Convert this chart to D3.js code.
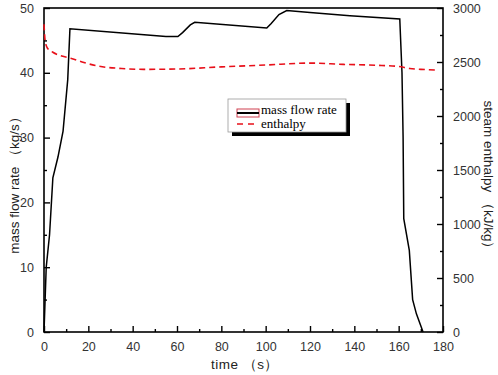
<!DOCTYPE html>
<html>
<head>
<meta charset="utf-8">
<script src="https://cdn.jsdelivr.net/npm/d3@7"></script>
<style>
  body { margin: 0; background: #fff; }
  svg { display: block; }
</style>
</head>
<body>
<svg id="chart" width="498" height="375"></svg>
<script>
// mass flow rate (kg/s) vs time (s)
const flowTime = [0, 1, 2.5, 4, 6.3, 8.6, 10.7, 11.7, 48, 55, 60.4, 62.5, 66, 68, 100.5, 102.5, 106, 109.5, 120, 138, 160.5, 161.5, 162, 162.3, 164.8, 166.3, 168, 171];
const flowValue = [0, 10, 15, 23.8, 27, 31, 38.9, 46.8, 45.8, 45.6, 45.6, 46.2, 47.4, 47.8, 46.9, 47.6, 49, 49.6, 49.3, 48.8, 48.3, 40, 30, 17.5, 12.6, 5, 2.8, 0];

// steam enthalpy (kJ/kg) vs time (s)
const enthTime = [0, 0.5, 1.5, 4, 8, 12, 18, 25, 35, 45, 60, 80, 100, 120, 135, 150, 160, 165, 170, 178];
const enthValue = [2850, 2700, 2630, 2590, 2555, 2535, 2495, 2460, 2440, 2432, 2435, 2455, 2472, 2490, 2478, 2470, 2458, 2440, 2432, 2425];

const xTicks = [0, 20, 40, 60, 80, 100, 120, 140, 160, 180];
const yLeftTicks = [0, 10, 20, 30, 40, 50];
const yRightTicks = [0, 500, 1000, 1500, 2000, 2500, 3000];

const svg = d3.select("#chart");
const plotLeft = 44, plotRight = 443, plotTop = 8, plotBottom = 332;

const x = d3.scaleLinear().domain([0, 180]).range([plotLeft, plotRight]);
const yL = d3.scaleLinear().domain([0, 50]).range([plotBottom, plotTop]);
const yR = d3.scaleLinear().domain([0, 3000]).range([plotBottom, plotTop]);

const font = "Liberation Sans, Arial, sans-serif";
const serif = "Liberation Serif, Times New Roman, serif";

// frame
svg.append("rect")
  .attr("x", plotLeft).attr("y", plotTop)
  .attr("width", plotRight - plotLeft).attr("height", plotBottom - plotTop)
  .attr("fill", "none").attr("stroke", "#000").attr("stroke-width", 1.6);

function styleAxis(g) {
  g.select(".domain").remove();
  g.selectAll(".tick line").attr("stroke", "#000").attr("stroke-width", 1.4);
  g.selectAll(".tick text")
    .attr("fill", "#333")
    .style("font-family", font)
    .style("font-size", "12.5px");
}

// bottom axis, inward ticks, with minor ticks
svg.append("g")
  .attr("transform", `translate(0,${plotBottom})`)
  .call(d3.axisBottom(x).tickValues(xTicks).tickSize(-6).tickPadding(10))
  .call(styleAxis);
svg.append("g")
  .attr("transform", `translate(0,${plotBottom})`)
  .call(d3.axisBottom(x).tickValues(d3.range(10, 180, 20)).tickSize(-3).tickFormat(""))
  .call(styleAxis);

// left axis
svg.append("g")
  .attr("transform", `translate(${plotLeft},0)`)
  .call(d3.axisLeft(yL).tickValues(yLeftTicks).tickSize(-6).tickPadding(10))
  .call(styleAxis);
svg.append("g")
  .attr("transform", `translate(${plotLeft},0)`)
  .call(d3.axisLeft(yL).tickValues(d3.range(5, 50, 10)).tickSize(-3).tickFormat(""))
  .call(styleAxis);

// right axis
svg.append("g")
  .attr("transform", `translate(${plotRight},0)`)
  .call(d3.axisRight(yR).tickValues(yRightTicks).tickFormat(d3.format("d")).tickSize(-6).tickPadding(10))
  .call(styleAxis);
svg.append("g")
  .attr("transform", `translate(${plotRight},0)`)
  .call(d3.axisRight(yR).tickValues(d3.range(250, 3000, 500)).tickSize(-3).tickFormat(""))
  .call(styleAxis);

// lines
const flow = flowTime.map((t, i) => [t, flowValue[i]]);
const enth = enthTime.map((t, i) => [t, enthValue[i]]);

svg.append("path")
  .datum(flow)
  .attr("fill", "none")
  .attr("stroke", "#000")
  .attr("stroke-width", 1.5)
  .attr("d", d3.line().x((d) => x(d[0])).y((d) => yL(d[1])));

svg.append("path")
  .datum(enth)
  .attr("fill", "none")
  .attr("stroke", "#e8101a")
  .attr("stroke-width", 1.6)
  .attr("stroke-dasharray", "6,4")
  .attr("d", d3.line().curve(d3.curveMonotoneX).x((d) => x(d[0])).y((d) => yR(d[1])));

// legend
const lg = svg.append("g").attr("transform", "translate(228,99)");
lg.append("rect").attr("x", 4).attr("y", 4).attr("width", 118).attr("height", 33).attr("fill", "#000");
lg.append("rect").attr("x", 0).attr("y", 0).attr("width", 118).attr("height", 33)
  .attr("fill", "#fff").attr("stroke", "#999").attr("stroke-width", 0.8);
lg.append("rect").attr("x", 9).attr("y", 10).attr("width", 22).attr("height", 8)
  .attr("fill", "#fff").attr("stroke", "#d04050").attr("stroke-width", 1);
lg.append("line").attr("x1", 9).attr("x2", 31).attr("y1", 14).attr("y2", 14)
  .attr("stroke", "#000").attr("stroke-width", 2);
lg.append("line").attr("x1", 9).attr("x2", 31).attr("y1", 25).attr("y2", 25)
  .attr("stroke", "#e8101a").attr("stroke-width", 1.6).attr("stroke-dasharray", "6,5");
lg.append("text").attr("x", 33).attr("y", 15)
  .style("font-family", serif).style("font-size", "13px")
  .text("mass flow rate");
lg.append("text").attr("x", 33).attr("y", 29)
  .style("font-family", serif).style("font-size", "13px")
  .text("enthalpy");

// axis titles
svg.append("text")
  .attr("x", 245).attr("y", 369)
  .attr("text-anchor", "middle")
  .attr("fill", "#222")
  .style("font-family", font).style("font-size", "13.5px")
  .style("letter-spacing", "0.5px")
  .text("time （s）");

svg.append("text")
  .attr("transform", "translate(19,182) rotate(-90)")
  .attr("text-anchor", "middle")
  .attr("fill", "#222")
  .style("font-family", font).style("font-size", "13.5px")
  .text("mass flow rate （kg/s）");

svg.append("text")
  .attr("transform", "translate(484,178) rotate(90)")
  .attr("text-anchor", "middle")
  .attr("fill", "#222")
  .style("font-family", font).style("font-size", "13.5px")
  .text("steam enthalpy （kJ/kg）");
</script>
</body>
</html>
